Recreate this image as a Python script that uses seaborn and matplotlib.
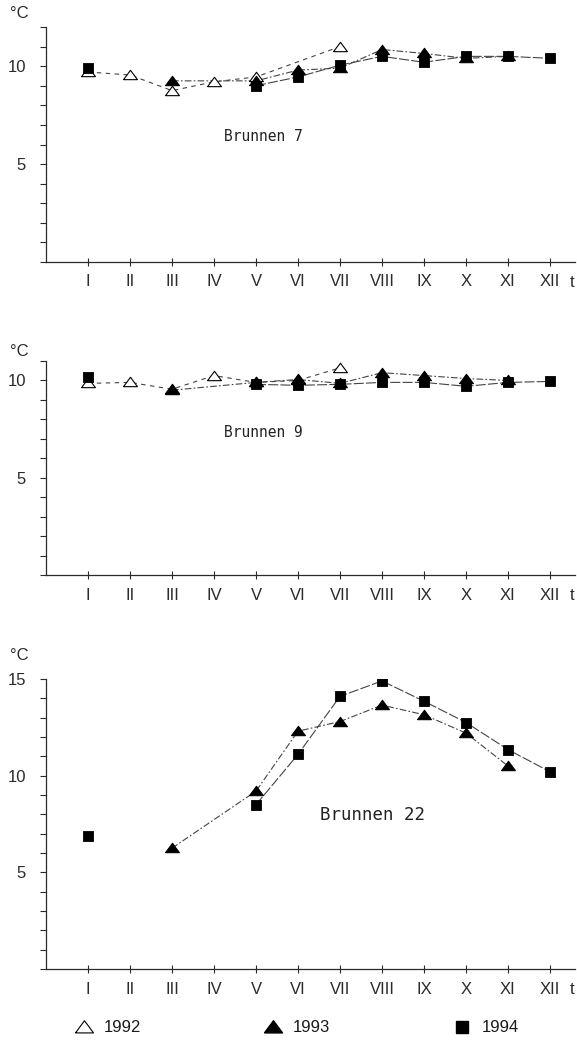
import numpy as np
import pandas as pd
import matplotlib
matplotlib.use("Agg")
import matplotlib.pyplot as plt
import seaborn as sns
from matplotlib.lines import Line2D

# ---------------- data ----------------
months = list(range(1, 13))
month_labels = ["I", "II", "III", "IV", "V", "VI", "VII", "VIII", "IX", "X", "XI", "XII"]
years = [1992, 1993, 1994]
nan = np.nan

b7_1992 = [9.7, 9.55, 8.75, 9.2, 9.45, nan, 11.0, nan, nan, nan, nan, nan]
b7_1993 = [nan, nan, 9.25, nan, 9.25, 9.8, 9.9, 10.85, 10.65, 10.4, 10.5, nan]
b7_1994 = [9.9, nan, nan, nan, 9.0, 9.45, 10.05, 10.5, 10.2, 10.5, 10.5, 10.4]

b9_1992 = [9.85, 9.9, 9.55, 10.25, 9.9, 10.0, 10.65, nan, nan, nan, nan, nan]
b9_1993 = [nan, nan, 9.5, nan, 9.9, 10.05, 9.85, 10.4, 10.25, 10.1, 10.0, nan]
b9_1994 = [10.2, nan, nan, nan, 9.8, 9.75, 9.8, 9.9, 9.9, 9.7, 9.9, 9.95]

b22_1992 = [nan] * 12
b22_1993 = [nan, nan, 6.25, nan, 9.2, 12.3, 12.8, 13.65, 13.15, 12.2, 10.5, nan]
b22_1994 = [6.9, nan, nan, nan, 8.5, 11.1, 14.1, 14.9, 13.85, 12.75, 11.35, 10.2]

panel_names = ["Brunnen 7", "Brunnen 9", "Brunnen 22"]
panel_data = [
    {1992: b7_1992, 1993: b7_1993, 1994: b7_1994},
    {1992: b9_1992, 1993: b9_1993, 1994: b9_1994},
    {1992: b22_1992, 1993: b22_1993, 1994: b22_1994},
]
panel_ymax = [12, 11, 15]

# ---------------- style ----------------
sns.set_theme(style="ticks")
plt.rcParams["font.family"] = ["Liberation Sans", "DejaVu Sans"]

W, H = 577, 1040
fig = plt.figure(figsize=(W / 100, H / 100), dpi=100)

left_px = 46
unit_x = 42.0
xmax = 12.6
# (bottom px, top px, °C y px, name pos in data, name fontsize)
layout = [
    (262, 27, 14, (4.25, 6.4), 10.5),
    (575, 361, 351, (4.25, 7.35), 10.5),
    (969, 679, 655, (6.52, 7.97), 12.5),
]

tri = [(-1, -0.6), (1, -0.6), (0, 0.75), (-1, -0.6)]
marker_style = {
    1992: dict(marker=tri, color="white", edgecolor="black", s=100, linewidth=0.8),
    1993: dict(marker=tri, color="black", edgecolor="black", s=100, linewidth=0.8),
    1994: dict(marker="s", color="black", edgecolor="black", s=50, linewidth=0.6),
}
line_style = {
    1992: (0, (4, 4)),
    1993: (0, (6, 2, 1.5, 2)),
    1994: (0, (9, 2)),
}
ink = "#2b2b2b"

for name, data, ymax, (bot, top, cy, (tx, ty), nfs) in zip(panel_names, panel_data, panel_ymax, layout):
    ax = fig.add_axes([left_px / W, 1 - bot / H, xmax * unit_x / W, (bot - top) / H])
    for yr in years:
        df = pd.DataFrame({"month": months, "temp": data[yr]}).dropna()
        if df.empty:
            continue
        df["seg"] = (df["month"].diff() > 2).cumsum()
        sns.lineplot(data=df, x="month", y="temp", units="seg", estimator=None,
                     ax=ax, color="#444444", lw=0.8, linestyle=line_style[yr],
                     legend=False, zorder=2)
        sns.scatterplot(data=df, x="month", y="temp", ax=ax, legend=False,
                        zorder=3, **marker_style[yr])
    ax.set_xlim(0, xmax)
    ax.set_ylim(0, ymax)
    ax.set_xticks(months)
    ax.set_xticklabels(month_labels, fontsize=12, color=ink)
    ax.set_yticks(range(0, ymax + 1))
    ax.set_yticklabels([str(v) if (v % 5 == 0 and v > 0) else "" for v in range(0, ymax + 1)],
                       fontsize=12, color=ink)
    ax.tick_params(axis="x", direction="inout", length=6, width=0.8, pad=6, colors=ink)
    ax.tick_params(axis="y", direction="out", length=4.5, width=0.8, pad=10, colors=ink)
    for sp in ("top", "right"):
        ax.spines[sp].set_visible(False)
    for sp in ("left", "bottom"):
        ax.spines[sp].set_linewidth(0.9)
        ax.spines[sp].set_color(ink)
    ax.set_xlabel("")
    ax.set_ylabel("")
    ax.set_facecolor("white")
    ax.text(tx, ty, name, fontsize=nfs, family="DejaVu Sans Mono", color="#222222",
            ha="left", va="center")
    fig.text(19 / W, 1 - cy / H, "°C", fontsize=12, color=ink, ha="center", va="center")
    fig.text(572 / W, 1 - (bot + 21) / H, "t", fontsize=12, color=ink, ha="center", va="center")

handles = [
    Line2D([], [], linestyle="none", marker=tri, markersize=13, markerfacecolor="white",
           markeredgecolor="black", markeredgewidth=0.8, label="1992"),
    Line2D([], [], linestyle="none", marker=tri, markersize=13, markerfacecolor="black",
           markeredgecolor="black", label="1993"),
    Line2D([], [], linestyle="none", marker="s", markersize=8.5, markerfacecolor="black",
           markeredgecolor="black", label="1994"),
]
fig.legend(handles=handles, loc="center", bbox_to_anchor=(297 / W, 1 - 1028 / H), ncol=3,
           frameon=False, fontsize=12, handlelength=1.0, handletextpad=0.7,
           columnspacing=7.4, labelcolor="#1a1a1a")

fig.savefig("out.png", dpi=100, facecolor="white")
